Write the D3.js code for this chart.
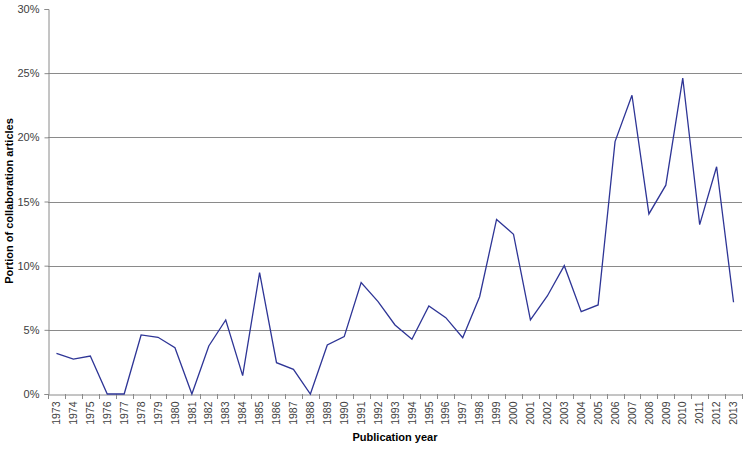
<!DOCTYPE html>
<html>
<head>
<meta charset="utf-8">
<script src="https://cdn.jsdelivr.net/npm/d3@7"></script>
<style>
  html, body { margin: 0; padding: 0; background: #fff; }
  svg { display: block; }
</style>
</head>
<body>
<svg id="chart" width="747" height="449"></svg>
<script>
const years = [1973,1974,1975,1976,1977,1978,1979,1980,1981,1982,1983,1984,1985,1986,1987,1988,1989,1990,1991,1992,1993,1994,1995,1996,1997,1998,1999,2000,2001,2002,2003,2004,2005,2006,2007,2008,2009,2010,2011,2012,2013];
const portion = [3.17,2.72,2.96,0,0,4.6,4.42,3.6,0,3.74,5.77,1.43,9.45,2.44,1.92,0,3.82,4.47,8.68,7.2,5.38,4.26,6.86,5.95,4.39,7.58,13.6,12.45,5.77,7.64,10.0,6.42,6.94,19.67,23.28,14.03,16.27,24.62,13.2,17.71,7.15];
const yTicks = [0,5,10,15,20,25,30];
const gridValues = [5,10,15,20,25];
const xTitle = "Publication year";
const yTitle = "Portion of collaboration articles";

const svg = d3.select("#chart");
const plotLeft = 48, plotRight = 742, plotTop = 9, plotBottom = 394;

const x = d3.scaleBand().domain(years).range([plotLeft, plotRight]).paddingInner(0).paddingOuter(0);
const y = d3.scaleLinear().domain([0, 30]).range([plotBottom, plotTop]);

// gridlines
svg.append("g").selectAll("line").data(gridValues).join("line")
  .attr("x1", plotLeft).attr("x2", plotRight)
  .attr("y1", d => Math.round(y(d)) + 0.5).attr("y2", d => Math.round(y(d)) + 0.5)
  .attr("stroke", "#8a8a8a").attr("stroke-width", 1);

// y axis
const yAxis = d3.axisLeft(y).tickValues(yTicks).tickFormat(d => d + "%").tickSize(4).tickPadding(5);
const gy = svg.append("g").attr("transform", `translate(${plotLeft + 0.5},0)`).call(yAxis);
gy.select(".domain").attr("stroke", "#8a8a8a");
gy.selectAll(".tick line").attr("stroke", "#8a8a8a");
gy.selectAll(".tick text").attr("font-family", "Liberation Sans, Arial, sans-serif").attr("font-size", "11px").attr("fill", "#404040");

// x axis
const xAxis = d3.axisBottom(x).tickSize(0).tickPadding(0);
const gx = svg.append("g").attr("transform", `translate(0,${Math.round(plotBottom) + 0.5})`).call(xAxis);
gx.select(".domain").attr("stroke", "#8a8a8a");
gx.selectAll(".tick text")
  .attr("font-family", "Liberation Sans, Arial, sans-serif").attr("font-size", "10.5px").attr("fill", "#404040")
  .attr("transform", "rotate(-90)")
  .attr("text-anchor", "end")
  .attr("x", -7).attr("y", 0).attr("dy", "0.35em");

// boundary tick marks
const boundaries = years.map(d => x(d)).concat([x(years[years.length - 1]) + x.bandwidth()]);
svg.append("g").selectAll("line").data(boundaries).join("line")
  .attr("x1", d => Math.round(d) + 0.5).attr("x2", d => Math.round(d) + 0.5)
  .attr("y1", plotBottom).attr("y2", plotBottom + 5)
  .attr("stroke", "#8a8a8a");

// line
const line = d3.line().x((d, i) => x(years[i]) + x.bandwidth() / 2).y(d => y(d));
svg.append("path").datum(portion)
  .attr("d", line).attr("fill", "none")
  .attr("stroke", "#2e3596").attr("stroke-width", 1.3).attr("stroke-linejoin", "miter");

// titles
svg.append("text").attr("x", 395).attr("y", 441).attr("text-anchor", "middle")
  .attr("font-family", "Liberation Sans, Arial, sans-serif").attr("font-size", "11px").attr("font-weight", "bold").attr("fill", "#000")
  .text(xTitle);
svg.append("text").attr("transform", "translate(13,201) rotate(-90)").attr("text-anchor", "middle")
  .attr("font-family", "Liberation Sans, Arial, sans-serif").attr("font-size", "11px").attr("font-weight", "bold").attr("fill", "#000")
  .text(yTitle);
</script>
</body>
</html>
